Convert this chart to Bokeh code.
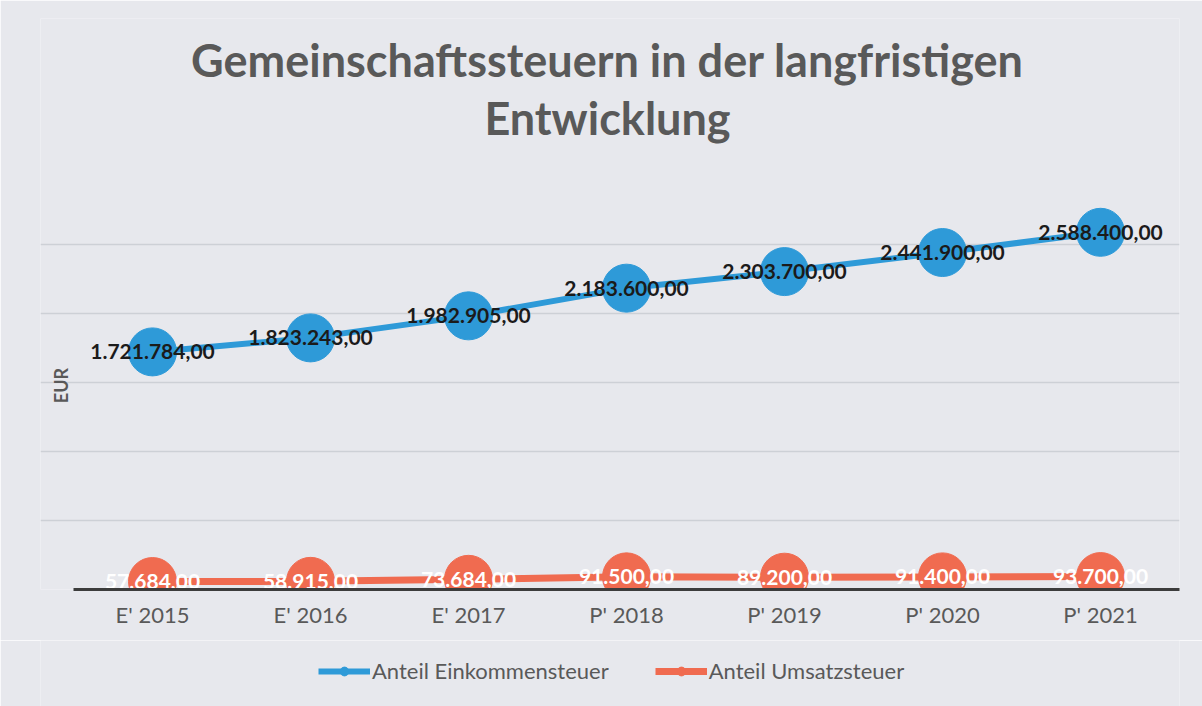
from bokeh.plotting import figure
from bokeh.layouts import column
from bokeh.models import (ColumnDataSource, FixedTicker, Label, Legend, LegendItem, Range1d)
from bokeh.core.properties import value
from bokeh.embed import file_html
from bokeh.resources import INLINE

categories = ["E' 2015", "E' 2016", "E' 2017", "P' 2018", "P' 2019", "P' 2020", "P' 2021"]
einkommensteuer = [1721784, 1823243, 1982905, 2183600, 2303700, 2441900, 2588400]
umsatzsteuer = [57684, 58915, 73684, 91500, 89200, 91400, 93700]
y_ticks = [0, 500000, 1000000, 1500000, 2000000, 2500000]

title_lines = ["Gemeinschaftssteuern in der langfristigen", "Entwicklung"]
series_names = ["Anteil Einkommensteuer", "Anteil Umsatzsteuer"]
y_label = "EUR"


def de_fmt(v):
    s = f"{v:,.2f}"
    return s.replace(",", "X").replace(".", ",").replace("X", ".")


xs = list(range(len(categories)))
src = ColumnDataSource(dict(
    x=xs,
    ek=einkommensteuer,
    ust=umsatzsteuer,
    ek_lbl=[de_fmt(v) for v in einkommensteuer],
    ust_lbl=[de_fmt(v) for v in umsatzsteuer],
))

BG = "#e7e8ed"
BLUE = "#2e9ad8"
ORANGE = "#f06b50"
GRAY = "#595959"
FONT = "Lato"

W, H, H2 = 1202, 640, 66
TOP, BOTTOM, RIGHT = 18, 51, 23
PLOT_LEFT = 73      # where the category band starts
FRAME_LEFT = 40     # frame extended left so the EUR label fits inside
AXIS_Y = H - BOTTOM
frame_h = H - TOP - BOTTOM
units_per_px_y = 500000 / 69.0
y_max = frame_h * units_per_px_y
units_per_px_x = 1.0 / 158.0
x_start = -0.5 - (PLOT_LEFT - FRAME_LEFT) * units_per_px_x
x_end = len(categories) - 0.5

p = figure(width=W, height=H, output_backend="svg", toolbar_location=None,
           x_range=Range1d(x_start, x_end),
           y_range=Range1d(0, y_max),
           min_border_left=FRAME_LEFT, min_border_right=RIGHT,
           min_border_top=TOP, min_border_bottom=BOTTOM)
p.background_fill_color = BG
p.border_fill_color = BG
p.outline_line_color = None

p.xgrid.visible = False
p.yaxis.visible = False
p.ygrid.ticker = FixedTicker(ticks=y_ticks)
p.ygrid.grid_line_color = "#cdd0d6"
p.ygrid.grid_line_width = 1.5

p.xaxis.ticker = FixedTicker(ticks=xs)
p.xaxis.bounds = (-0.5, len(categories) - 0.5)
p.xaxis.major_label_overrides = {i: c for i, c in enumerate(categories)}
p.xaxis.axis_line_color = "#3c3c3c"
p.xaxis.axis_line_width = 3
p.xaxis.major_tick_line_color = None
p.xaxis.minor_tick_line_color = None
p.xaxis.major_label_standoff = 5
p.xaxis.major_label_text_font = FONT
p.xaxis.major_label_text_font_size = "22px"
p.xaxis.major_label_text_color = GRAY

p.line("x", "ek", source=src, line_color=BLUE, line_width=6)
p.line("x", "ust", source=src, line_color=ORANGE, line_width=7)
p.scatter("x", "ek", source=src, size=48, fill_color=BLUE, line_color=BLUE)
p.scatter("x", "ust", source=src, size=48, fill_color=ORANGE, line_color=ORANGE)

p.text("x", "ek", text="ek_lbl", source=src, text_align="center", text_baseline="middle",
       text_font=value(FONT), text_font_style="bold", text_font_size="21px", text_color="#1b1b1b")
p.text("x", "ust", text="ust_lbl", source=src, text_align="center", text_baseline="middle",
       text_font=value(FONT), text_font_style="bold", text_font_size="21px", text_color="#ffffff")

# Title inside the (extended) frame
title_x = -0.5 + (607 - PLOT_LEFT) * units_per_px_x
for line_txt, ypage in zip(title_lines, [59, 117]):
    p.add_layout(Label(x=title_x, y=(AXIS_Y - ypage) * units_per_px_y, text=line_txt,
                       text_align="center", text_baseline="middle", text_font=FONT,
                       text_font_style="bold", text_font_size="45px", text_color=GRAY))

# y-axis title
p.add_layout(Label(x=-0.5 + (60 - PLOT_LEFT) * units_per_px_x, y=(AXIS_Y - 385) * units_per_px_y,
                   text=y_label, angle=1.5707963, text_align="center", text_baseline="middle",
                   text_font=FONT, text_font_style="bold", text_font_size="18px", text_color=GRAY))

# Legend strip below the chart (its glyphs use the same data, off-view)
q = figure(width=W, height=H2, output_backend="svg", toolbar_location=None,
           x_range=Range1d(x_start, x_end), y_range=Range1d(-2, -1),
           min_border_left=FRAME_LEFT, min_border_right=RIGHT, min_border_top=0, min_border_bottom=0)
q.background_fill_color = BG
q.border_fill_color = BG
q.outline_line_color = None
q.axis.visible = False
q.grid.visible = False
ql1 = q.line("x", "ek", source=src, line_color=BLUE, line_width=6)
qm1 = q.scatter("x", "ek", source=src, size=14, fill_color=BLUE, line_color=BLUE)
ql2 = q.line("x", "ust", source=src, line_color=ORANGE, line_width=7)
qm2 = q.scatter("x", "ust", source=src, size=14, fill_color=ORANGE, line_color=ORANGE)

legend = Legend(items=[LegendItem(label=series_names[0], renderers=[ql1, qm1]),
                       LegendItem(label=series_names[1], renderers=[ql2, qm2])],
                orientation="horizontal", location=(278, 22),
                label_text_font=FONT, label_text_font_size="22px", label_text_color=GRAY,
                glyph_width=52, glyph_height=22, label_standoff=2, spacing=46,
                background_fill_alpha=0, border_line_color=None, margin=0, padding=6)
q.add_layout(legend)

layout = column(p, q, spacing=0)
open("out.html", "w").write(file_html(layout, INLINE))
